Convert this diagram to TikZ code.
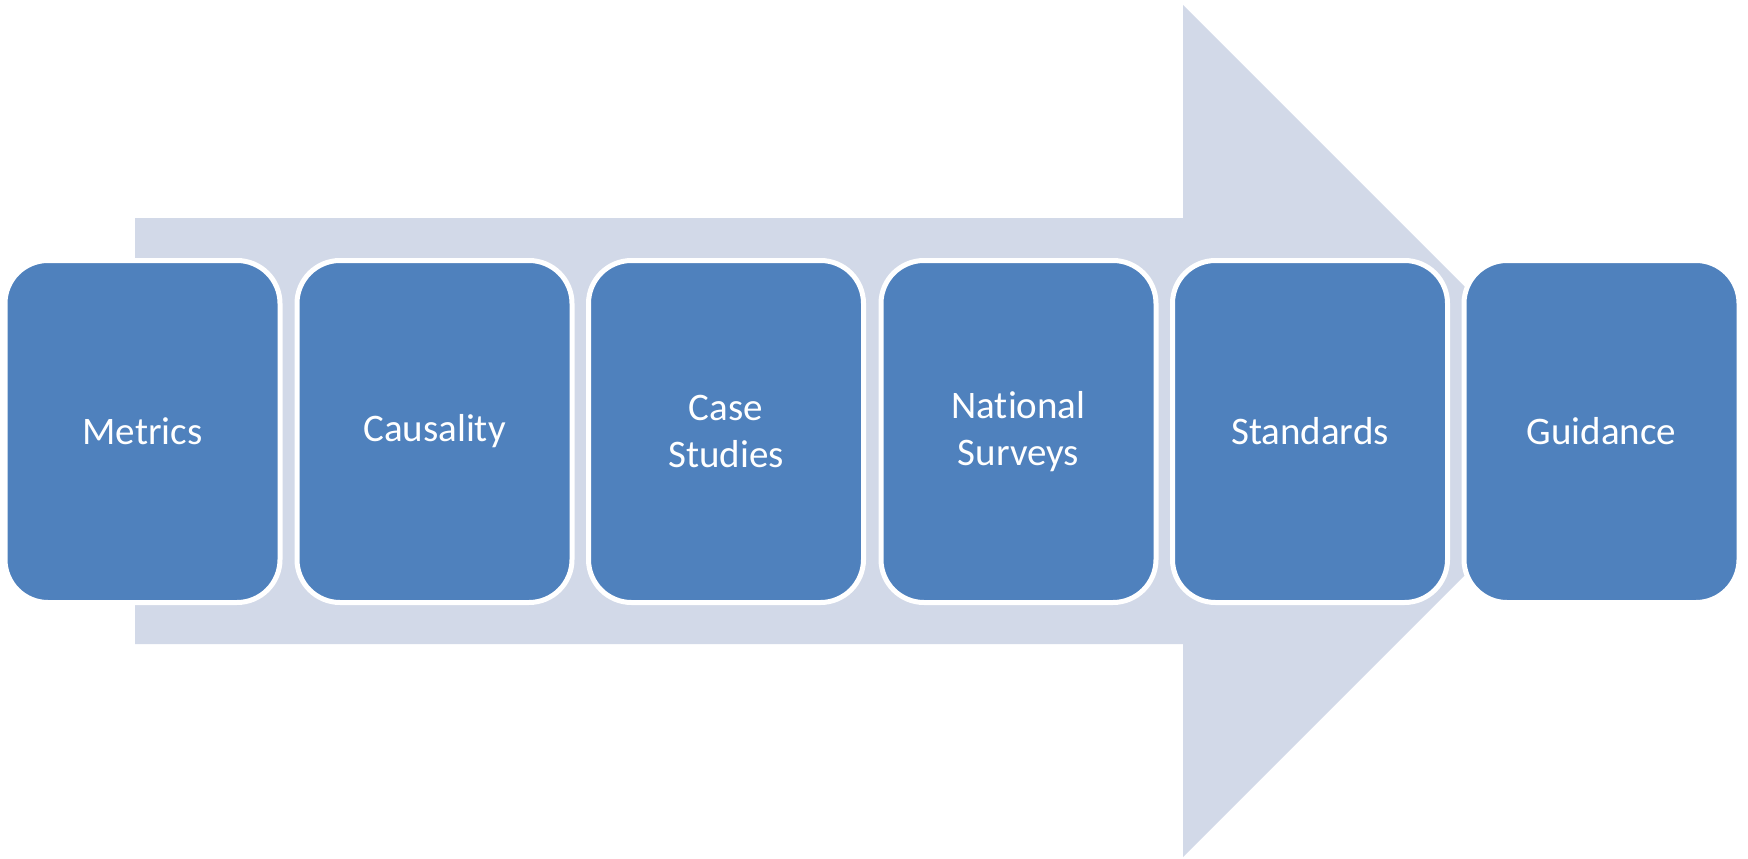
\documentclass[tikz,border=0pt]{standalone}
\usepackage{fontspec}
\setmainfont[Ligatures={NoCommon,NoRare}]{Carlito}
\definecolor{boxblue}{HTML}{4F81BD}
\definecolor{arrowgray}{HTML}{D2D9E8}
\begin{document}
\begin{tikzpicture}[x=1pt,y=-1pt,
  stage/.style={draw=white, line width=5pt, fill=boxblue, rounded corners=43pt,
    minimum width=275pt, minimum height=342pt, inner sep=0pt,
    text=white, align=center, font=\fontsize{39}{47}\selectfont}]
\useasboundingbox (0,0) rectangle (1748,859);
\fill[arrowgray] (135,218) -- (1183,218) -- (1183,5) -- (1609,431) -- (1183,857)
  -- (1183,644) -- (135,644) -- cycle;
\node[stage] (m) at (142.5,431.5) {Metrics};
\node[stage] (c) at (434.5,431.5) {Causality};
\node[stage] (cs) at (726,431.5) {Case\\Studies};
\node[stage] (ns) at (1018.5,431.5) {National\\Surveys};
\node[stage] (s) at (1310,431.5) {Standards};
\node[stage] (g) at (1601.5,431.5) {Guidance};
\end{tikzpicture}
\end{document}
